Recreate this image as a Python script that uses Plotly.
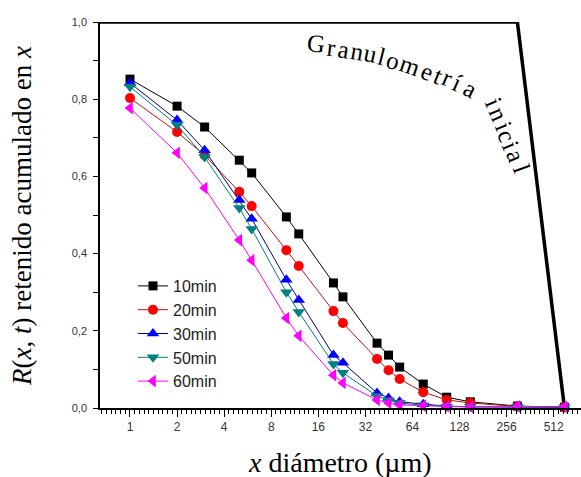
import plotly.graph_objects as go
import math

# ---- data ----
diam = [1, 2, 3, 5, 6, 10, 12, 20, 23, 38, 45, 53, 75, 106, 150, 300, 600]
r10 = [0.852, 0.782, 0.728, 0.642, 0.609, 0.495, 0.451, 0.324, 0.288, 0.168, 0.137, 0.106, 0.062, 0.028, 0.016, 0.005, 0.002]
r20 = [0.803, 0.715, 0.655, 0.560, 0.523, 0.409, 0.368, 0.251, 0.220, 0.127, 0.098, 0.075, 0.041, 0.021, 0.013, 0.004, 0.002]
r30 = [0.842, 0.746, 0.668, 0.539, 0.490, 0.332, 0.280, 0.137, 0.117, 0.039, 0.026, 0.016, 0.010, 0.005, 0.003, 0.003, 0.002]
r50 = [0.832, 0.733, 0.650, 0.518, 0.464, 0.300, 0.249, 0.114, 0.091, 0.031, 0.020, 0.013, 0.007, 0.004, 0.003, 0.003, 0.002]
r60 = [0.777, 0.661, 0.570, 0.435, 0.383, 0.233, 0.187, 0.085, 0.065, 0.021, 0.013, 0.008, 0.006, 0.004, 0.003, 0.004, 0.003]
series_names = ["10min", "20min", "30min", "50min", "60min"]
initial_x = [0.5, 300, 600]
initial_y = [1.0, 1.0, 0.0]
x_tick_vals = [1, 2, 4, 8, 16, 32, 64, 128, 256, 512]
x_tick_text = ["1", "2", "4", "8", "16", "32", "64", "128", "256", "512"]

# ---- styles ----
W, H = 581, 477
L, R, T, B = 100, 0, 22, 69
styles = [
    dict(symbol="square", mcolor="#000000", lcolor="#000000", size=9),
    dict(symbol="circle", mcolor="#ff0000", lcolor="#c01010", size=10),
    dict(symbol="triangle-up", mcolor="#0000ff", lcolor="#000080", size=11),
    dict(symbol="triangle-down", mcolor="#008080", lcolor="#008080", size=11),
    dict(symbol="triangle-left", mcolor="#ff00ff", lcolor="#ff00ff", size=11),
]

fig = go.Figure()
fig.add_trace(go.Scatter(x=initial_x, y=initial_y, mode="lines",
                         line=dict(color="black", width=3.5), showlegend=False,
                         hoverinfo="skip"))
for name, ys, st in zip(series_names, [r10, r20, r30, r50, r60], styles):
    fig.add_trace(go.Scatter(
        x=diam, y=ys, name=name, mode="lines+markers", cliponaxis=False,
        line=dict(color=st["lcolor"], width=1),
        marker=dict(symbol=st["symbol"], color=st["mcolor"], size=st["size"],
                    line=dict(width=0))))

minor_vals = [2 ** (k + j / 10) for k in range(-1, 10) for j in range(1, 10)]

pw, ph = W - L - R, H - T - B
def px(x):
    return (x - L) / pw
def py(y):
    return (H - B - y) / ph

annotations = [
    dict(text="<i>x</i> diámetro (µm)", x=px(340), y=py(462), xref="paper", yref="paper",
         showarrow=False, xanchor="center", yanchor="middle",
         font=dict(family="Liberation Serif", size=28, color="black")),
    dict(text="<i>R</i>(<i>x</i>, <i>t</i>) retenido acumulado en <i>x</i>", x=px(22), y=py(216),
         xref="paper", yref="paper", textangle=-90, showarrow=False,
         xanchor="center", yanchor="middle",
         font=dict(family="Liberation Serif", size=27, color="black")),
]

# curved label "Granulometría inicial" (per-character placement)
chars = [("G", 316, 44, 6), ("r", 331, 47, 7), ("a", 343, 49, 9), ("n", 357, 51, 10),
         ("u", 370, 54, 12), ("l", 381, 57, 14), ("o", 393, 60, 16), ("m", 410, 66, 19),
         ("e", 427, 71, 21), ("t", 438, 75, 22), ("r", 447, 78, 23), ("í", 457, 82, 24),
         ("a", 470, 88, 27),
         ("i", 493, 102, 66), ("n", 498, 114, 67), ("i", 503, 126, 67), ("c", 507, 135, 68),
         ("i", 511, 145, 68), ("a", 516, 155, 69), ("l", 522, 168, 70)]
for ch, cx, cy, ang in chars:
    annotations.append(dict(text=ch, x=px(cx), y=py(cy), xref="paper", yref="paper",
                            showarrow=False, xanchor="center", yanchor="middle",
                            textangle=ang,
                            font=dict(family="Liberation Serif", size=25, color="black")))

fig.update_layout(
    width=W, height=H,
    margin=dict(l=L, r=R, t=T, b=B, pad=0),
    paper_bgcolor="white", plot_bgcolor="white",
    separators=",.",
    showlegend=True,
    legend=dict(x=px(133), y=py(269), xanchor="left", yanchor="top",
                bgcolor="rgba(0,0,0,0)", borderwidth=0,
                font=dict(family="Liberation Sans", size=16, color="#222"),
                itemsizing="trace", tracegroupgap=0),
    annotations=annotations,
    xaxis=dict(type="log", range=[math.log10(2 ** -0.637), math.log10(2 ** 9.58)],
               tickmode="array", tickvals=x_tick_vals, ticktext=x_tick_text,
               ticks="outside", ticklen=7, tickwidth=1.3, tickcolor="black",
               showline=True, linecolor="black", linewidth=1.5,
               showgrid=False, zeroline=False,
               tickfont=dict(family="Liberation Sans", size=12, color="#333"),
               minor=dict(tickmode="array", tickvals=minor_vals, ticks="outside",
                          ticklen=4, tickwidth=1, tickcolor="black", showgrid=False)),
    yaxis=dict(range=[0, 1.0], tickmode="linear", tick0=0, dtick=0.2, tickformat=".1f",
               ticks="outside", ticklen=5, tickwidth=1.3, tickcolor="black",
               showline=True, linecolor="black", linewidth=1.5,
               showgrid=False, zeroline=False, ticklabelstandoff=4,
               tickfont=dict(family="Liberation Sans", size=11, color="#333"),
               minor=dict(tickmode="linear", dtick=0.1, ticks="outside", ticklen=5,
                          tickwidth=1, tickcolor="black", showgrid=False)),
)

fig.write_html("out.html", config={"displayModeBar": False},
               post_script="document.body.style.margin='0';document.body.style.overflow='hidden';")
